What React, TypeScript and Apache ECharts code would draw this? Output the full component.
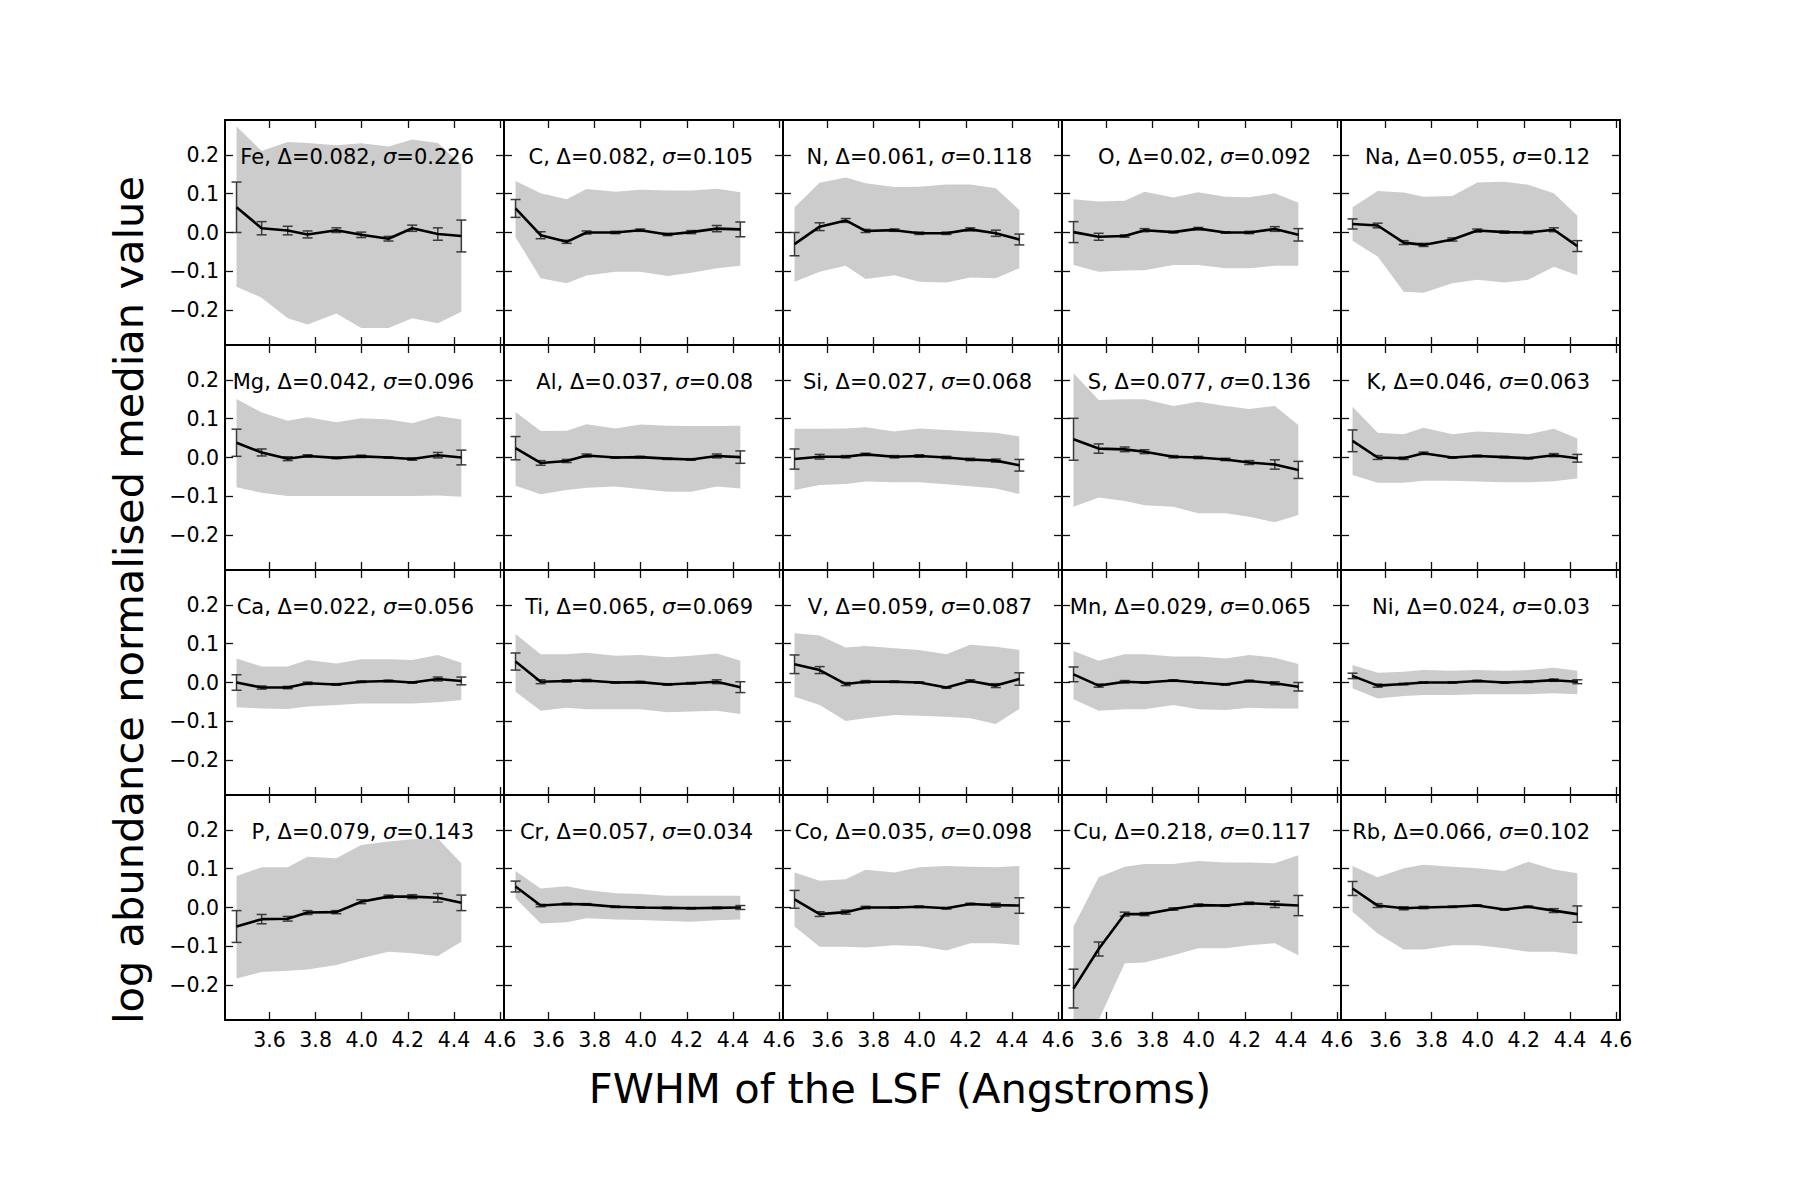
import { useEffect, useRef } from "react";
import * as echarts from "echarts";

// FWHM of the line spread function at which each median was evaluated (Angstroms)
const FWHM = [3.457, 3.566, 3.679, 3.765, 3.89, 3.998, 4.116, 4.219, 4.33, 4.432];

const ELEMENTS = ["Fe", "C", "N", "O", "Na", "Mg", "Al", "Si", "S", "K", "Ca", "Ti", "V", "Mn", "Ni", "P", "Cr", "Co", "Cu", "Rb"];
const DELTAS = ["0.082", "0.082", "0.061", "0.02", "0.055", "0.042", "0.037", "0.027", "0.077", "0.046", "0.022", "0.065", "0.059", "0.029", "0.024", "0.079", "0.057", "0.035", "0.218", "0.066"];
const SIGMAS = ["0.226", "0.105", "0.118", "0.092", "0.12", "0.096", "0.08", "0.068", "0.136", "0.063", "0.056", "0.069", "0.087", "0.065", "0.03", "0.143", "0.034", "0.098", "0.117", "0.102"];

// normalised median log abundance, one row per element (same order as ELEMENTS)
const MEDIAN = [
  [0.065, 0.011, 0.005, -0.005, 0.006, -0.006, -0.016, 0.011, -0.004, -0.009],
  [0.062, -0.007, -0.024, 0.0, 0.0, 0.006, -0.005, 0.001, 0.01, 0.008],
  [-0.03, 0.015, 0.031, 0.004, 0.006, -0.002, -0.002, 0.008, -0.002, -0.018],
  [0.001, -0.011, -0.009, 0.006, 0.001, 0.01, 0.0, 0.0, 0.009, -0.006],
  [0.022, 0.018, -0.026, -0.032, -0.018, 0.005, 0.001, 0.0, 0.007, -0.035],
  [0.038, 0.013, -0.003, 0.004, -0.001, 0.003, 0.0, -0.004, 0.006, 0.0],
  [0.024, -0.014, -0.009, 0.005, 0.0, 0.001, -0.003, -0.005, 0.004, 0.001],
  [-0.004, 0.002, 0.002, 0.008, 0.002, 0.004, 0.0, -0.005, -0.008, -0.02],
  [0.047, 0.023, 0.021, 0.015, 0.002, 0.0, -0.005, -0.013, -0.018, -0.032],
  [0.043, 0.0, -0.002, 0.011, 0.0, 0.004, 0.001, -0.002, 0.006, -0.002],
  [0.0, -0.013, -0.013, -0.002, -0.005, 0.002, 0.004, 0.0, 0.009, 0.004],
  [0.054, 0.002, 0.004, 0.005, 0.0, 0.001, -0.005, -0.002, 0.002, -0.012],
  [0.047, 0.032, -0.004, 0.002, 0.002, 0.0, -0.013, 0.004, -0.008, 0.009],
  [0.021, -0.008, 0.002, 0.0, 0.005, 0.0, -0.005, 0.004, -0.002, -0.011],
  [0.017, -0.008, -0.004, 0.0, 0.0, 0.004, 0.0, 0.002, 0.006, 0.002],
  [-0.049, -0.03, -0.029, -0.013, -0.012, 0.015, 0.028, 0.028, 0.025, 0.012],
  [0.054, 0.005, 0.009, 0.008, 0.002, 0.0, -0.001, -0.002, -0.001, 0.0],
  [0.021, -0.017, -0.012, 0.0, 0.0, 0.002, -0.002, 0.009, 0.006, 0.005],
  [-0.209, -0.107, -0.017, -0.017, -0.004, 0.006, 0.005, 0.011, 0.008, 0.005],
  [0.049, 0.005, -0.002, 0.0, 0.002, 0.005, -0.005, 0.002, -0.008, -0.017],
];

// half-length of the error bar on each median
const ERR = [
  [0.065, 0.017, 0.011, 0.009, 0.006, 0.007, 0.006, 0.008, 0.016, 0.041],
  [0.023, 0.009, 0.004, 0.004, 0.003, 0.003, 0.003, 0.004, 0.008, 0.019],
  [0.03, 0.01, 0.005, 0.004, 0.003, 0.003, 0.003, 0.004, 0.008, 0.014],
  [0.027, 0.009, 0.003, 0.004, 0.002, 0.003, 0.002, 0.003, 0.006, 0.016],
  [0.013, 0.006, 0.005, 0.004, 0.004, 0.004, 0.003, 0.003, 0.005, 0.014],
  [0.035, 0.009, 0.005, 0.003, 0.002, 0.003, 0.002, 0.003, 0.007, 0.019],
  [0.03, 0.006, 0.004, 0.004, 0.002, 0.002, 0.002, 0.002, 0.005, 0.016],
  [0.026, 0.006, 0.003, 0.003, 0.003, 0.003, 0.003, 0.003, 0.004, 0.015],
  [0.054, 0.012, 0.006, 0.005, 0.003, 0.003, 0.003, 0.005, 0.012, 0.022],
  [0.028, 0.005, 0.003, 0.003, 0.002, 0.002, 0.002, 0.002, 0.004, 0.01],
  [0.02, 0.004, 0.003, 0.003, 0.002, 0.002, 0.002, 0.002, 0.005, 0.01],
  [0.022, 0.005, 0.003, 0.003, 0.002, 0.002, 0.002, 0.002, 0.005, 0.014],
  [0.024, 0.009, 0.004, 0.003, 0.002, 0.002, 0.002, 0.003, 0.005, 0.016],
  [0.019, 0.004, 0.003, 0.002, 0.002, 0.002, 0.002, 0.002, 0.004, 0.011],
  [0.007, 0.004, 0.002, 0.002, 0.002, 0.002, 0.002, 0.002, 0.003, 0.005],
  [0.041, 0.012, 0.006, 0.005, 0.004, 0.005, 0.004, 0.005, 0.011, 0.02],
  [0.014, 0.003, 0.002, 0.002, 0.002, 0.002, 0.002, 0.002, 0.002, 0.005],
  [0.023, 0.006, 0.005, 0.003, 0.002, 0.002, 0.002, 0.002, 0.005, 0.02],
  [0.05, 0.018, 0.005, 0.004, 0.003, 0.003, 0.002, 0.003, 0.008, 0.026],
  [0.018, 0.005, 0.004, 0.003, 0.002, 0.002, 0.002, 0.002, 0.005, 0.021],
];

// upper edge of the scatter band
const BAND_HI = [
  [0.273, 0.21, 0.233, 0.231, 0.225, 0.23, 0.222, 0.24, 0.231, 0.175],
  [0.133, 0.101, 0.086, 0.112, 0.105, 0.11, 0.108, 0.108, 0.113, 0.104],
  [0.065, 0.128, 0.142, 0.127, 0.117, 0.118, 0.124, 0.124, 0.114, 0.058],
  [0.086, 0.08, 0.082, 0.105, 0.09, 0.104, 0.092, 0.091, 0.101, 0.077],
  [0.065, 0.107, 0.103, 0.092, 0.094, 0.129, 0.131, 0.123, 0.101, 0.043],
  [0.151, 0.116, 0.095, 0.104, 0.091, 0.101, 0.098, 0.088, 0.107, 0.098],
  [0.117, 0.068, 0.069, 0.086, 0.075, 0.085, 0.082, 0.081, 0.081, 0.082],
  [0.074, 0.074, 0.075, 0.078, 0.067, 0.075, 0.071, 0.067, 0.064, 0.054],
  [0.217, 0.148, 0.15, 0.15, 0.133, 0.144, 0.133, 0.125, 0.133, 0.084],
  [0.131, 0.064, 0.06, 0.077, 0.06, 0.067, 0.064, 0.06, 0.074, 0.049],
  [0.062, 0.041, 0.041, 0.058, 0.049, 0.06, 0.06, 0.058, 0.071, 0.051],
  [0.125, 0.073, 0.073, 0.077, 0.069, 0.071, 0.065, 0.069, 0.075, 0.056],
  [0.127, 0.121, 0.09, 0.094, 0.088, 0.084, 0.073, 0.097, 0.092, 0.084],
  [0.081, 0.056, 0.073, 0.073, 0.067, 0.067, 0.062, 0.071, 0.064, 0.048],
  [0.045, 0.025, 0.028, 0.032, 0.03, 0.032, 0.03, 0.032, 0.038, 0.03],
  [0.081, 0.104, 0.104, 0.131, 0.127, 0.161, 0.17, 0.176, 0.178, 0.114],
  [0.094, 0.049, 0.055, 0.045, 0.037, 0.035, 0.03, 0.03, 0.03, 0.03],
  [0.09, 0.069, 0.073, 0.097, 0.09, 0.104, 0.107, 0.105, 0.104, 0.107],
  [-0.049, 0.078, 0.105, 0.112, 0.112, 0.12, 0.116, 0.116, 0.114, 0.135],
  [0.107, 0.078, 0.101, 0.11, 0.105, 0.101, 0.094, 0.118, 0.098, 0.088],
];

// lower edge of the scatter band
const BAND_LO = [
  [-0.14, -0.168, -0.221, -0.237, -0.209, -0.246, -0.246, -0.221, -0.234, -0.204],
  [-0.012, -0.118, -0.131, -0.111, -0.101, -0.101, -0.112, -0.104, -0.092, -0.086],
  [-0.127, -0.101, -0.086, -0.12, -0.11, -0.127, -0.129, -0.116, -0.118, -0.092],
  [-0.084, -0.101, -0.098, -0.097, -0.084, -0.084, -0.092, -0.092, -0.086, -0.086],
  [-0.021, -0.062, -0.153, -0.155, -0.131, -0.122, -0.129, -0.122, -0.088, -0.11],
  [-0.077, -0.091, -0.099, -0.099, -0.099, -0.099, -0.099, -0.099, -0.098, -0.101],
  [-0.073, -0.095, -0.084, -0.078, -0.075, -0.081, -0.088, -0.088, -0.075, -0.08],
  [-0.084, -0.071, -0.068, -0.062, -0.064, -0.064, -0.069, -0.074, -0.08, -0.094],
  [-0.127, -0.103, -0.112, -0.123, -0.127, -0.144, -0.144, -0.153, -0.167, -0.148],
  [-0.045, -0.065, -0.065, -0.06, -0.06, -0.062, -0.064, -0.064, -0.061, -0.054],
  [-0.064, -0.067, -0.068, -0.062, -0.058, -0.054, -0.054, -0.054, -0.051, -0.045],
  [-0.024, -0.073, -0.065, -0.069, -0.069, -0.069, -0.077, -0.075, -0.073, -0.081],
  [-0.037, -0.058, -0.099, -0.092, -0.084, -0.086, -0.088, -0.092, -0.107, -0.068],
  [-0.043, -0.073, -0.069, -0.069, -0.058, -0.069, -0.071, -0.065, -0.067, -0.067],
  [-0.015, -0.041, -0.035, -0.032, -0.032, -0.03, -0.03, -0.03, -0.028, -0.03],
  [-0.183, -0.166, -0.163, -0.16, -0.148, -0.131, -0.114, -0.118, -0.125, -0.088],
  [0.024, -0.041, -0.038, -0.028, -0.031, -0.032, -0.035, -0.037, -0.033, -0.031],
  [-0.049, -0.101, -0.101, -0.103, -0.097, -0.099, -0.111, -0.092, -0.092, -0.097],
  [-0.42, -0.29, -0.144, -0.142, -0.123, -0.105, -0.105, -0.097, -0.092, -0.123],
  [-0.011, -0.067, -0.108, -0.108, -0.097, -0.097, -0.105, -0.114, -0.114, -0.121],
];

const X_TICKS = [3.6, 3.8, 4.0, 4.2, 4.4, 4.6];
const Y_TICKS = [-0.2, -0.1, 0.0, 0.1, 0.2];
const X_TITLE = "FWHM of the LSF (Angstroms)";
const Y_TITLE = "log abundance normalised median value";

// panel layout (pixels)
const W = 1800;
const H = 1200;
const LEFT = 225;
const TOP = 120;
const PW = 279;
const PH = 225;
const COLS = 5;
const ROWS = 4;
const X_MIN = 3.407;
const X_MAX = 4.617;
const Y_MIN = -0.29;
const Y_MAX = 0.29;
const FONT = "DejaVu Sans";
const CAP = 5;

const fmtX = (v: number) => v.toFixed(1);
const fmtY = (v: number) => (v < -1e-9 ? "\u2212" : "") + Math.abs(v).toFixed(1);

function buildOption() {
  const grid: any[] = [];
  const xAxis: any[] = [];
  const yAxis: any[] = [];
  const series: any[] = [];
  const title: any[] = [];

  const spine = { show: true, onZero: false, lineStyle: { color: "#000", width: 2 } };
  const tickStyle = { color: "#111", width: 1.3 };

  ELEMENTS.forEach((el, i) => {
    const r = Math.floor(i / COLS);
    const c = i % COLS;
    const left = LEFT + c * PW;
    const top = TOP + r * PH;
    grid.push({ left, top, width: PW, height: PH, containLabel: false });

    const xTick = { show: true, inside: true, length: 8, customValues: X_TICKS, lineStyle: tickStyle };
    const yTick = { show: true, inside: true, length: 8, customValues: Y_TICKS, lineStyle: tickStyle };
    const baseX = { gridIndex: i, type: "value", min: X_MIN, max: X_MAX, axisLine: spine, axisTick: xTick, splitLine: { show: false }, z: 5 };
    const baseY = { gridIndex: i, type: "value", min: Y_MIN, max: Y_MAX, axisLine: spine, axisTick: yTick, splitLine: { show: false }, z: 5 };

    xAxis.push({
      ...baseX,
      position: "bottom",
      axisLabel: { show: r === ROWS - 1, customValues: X_TICKS, formatter: fmtX, fontFamily: FONT, fontSize: 20.5, color: "#000", margin: 9 },
    });
    xAxis.push({ ...baseX, position: "top", axisLabel: { show: false } });
    yAxis.push({
      ...baseY,
      position: "left",
      axisLabel: { show: c === 0, customValues: Y_TICKS, formatter: fmtY, fontFamily: FONT, fontSize: 20.5, color: "#000", margin: 6 },
    });
    yAxis.push({ ...baseY, position: "right", axisLabel: { show: false } });

    const xi = 2 * i;
    const yi = 2 * i;

    // scatter band: one polygon through the upper edges and back along the lower edges
    series.push({
      type: "custom",
      xAxisIndex: xi,
      yAxisIndex: yi,
      silent: true,
      clip: true,
      encode: { x: 0, y: [1, 2] },
      data: FWHM.map((x, k) => [x, BAND_LO[i][k], BAND_HI[i][k]]),
      renderItem: (params: any, api: any) => {
        if (params.dataIndexInside !== 0) return null;
        const n = params.dataInsideLength;
        const upper: number[][] = [];
        const lower: number[][] = [];
        for (let k = 0; k < n; k++) {
          const x = api.value(0, k);
          upper.push(api.coord([x, api.value(2, k)]));
          lower.push(api.coord([x, api.value(1, k)]));
        }
        return {
          type: "polygon",
          shape: { points: upper.concat(lower.reverse()) },
          style: { fill: "#cccccc", stroke: "none" },
        };
      },
      z: 1,
    });

    // error bars on the medians
    series.push({
      type: "custom",
      xAxisIndex: xi,
      yAxisIndex: yi,
      silent: true,
      encode: { x: 0, y: 1 },
      data: FWHM.map((x, k) => [x, MEDIAN[i][k], ERR[i][k]]),
      renderItem: (_params: any, api: any) => {
        const x = api.value(0);
        const y = api.value(1);
        const e = api.value(2);
        const hi = api.coord([x, y + e]);
        const lo = api.coord([x, y - e]);
        const style = { stroke: "#3a3a3a", lineWidth: 1.5 };
        return {
          type: "group",
          children: [
            { type: "line", shape: { x1: hi[0], y1: hi[1], x2: lo[0], y2: lo[1] }, style },
            { type: "line", shape: { x1: hi[0] - CAP, y1: hi[1], x2: hi[0] + CAP, y2: hi[1] }, style },
            { type: "line", shape: { x1: lo[0] - CAP, y1: lo[1], x2: lo[0] + CAP, y2: lo[1] }, style },
          ],
        };
      },
      z: 2,
    });

    // median line
    series.push({
      type: "line",
      xAxisIndex: xi,
      yAxisIndex: yi,
      symbol: "none",
      silent: true,
      lineStyle: { color: "#000", width: 2.6 },
      data: FWHM.map((x, k) => [x, MEDIAN[i][k]]),
      z: 3,
    });

    const textStyle = { fontFamily: FONT, fontSize: 21, fontWeight: "normal", color: "#000", lineHeight: 24 };
    title.push({
      text: `{n|${el}, \u0394=${DELTAS[i]}, }{i|\u03c3}{n|=${SIGMAS[i]}}`,
      right: W - (left + PW - 30),
      top: top + 25,
      padding: 0,
      textStyle: {
        fontWeight: "normal",
        rich: {
          n: textStyle,
          i: { ...textStyle, fontStyle: "italic" },
        },
      },
    });
  });

  return {
    animation: false,
    backgroundColor: "#ffffff",
    textStyle: { fontFamily: FONT },
    title,
    grid,
    xAxis,
    yAxis,
    series,
    graphic: [
      {
        type: "text",
        x: 900,
        y: 1088,
        silent: true,
        style: {
          text: X_TITLE,
          font: `41.6px "${FONT}"`,
          fill: "#000",
          textAlign: "center",
          align: "center",
          textVerticalAlign: "middle",
          verticalAlign: "middle",
        },
      },
      {
        type: "text",
        x: 128,
        y: 600,
        rotation: Math.PI / 2,
        silent: true,
        style: {
          text: Y_TITLE,
          font: `41.6px "${FONT}"`,
          fill: "#000",
          textAlign: "center",
          align: "center",
          textVerticalAlign: "middle",
          verticalAlign: "middle",
        },
      },
    ],
  };
}

export default function App() {
  const ref = useRef<HTMLDivElement>(null);
  useEffect(() => {
    if (!ref.current) return;
    const chart = echarts.init(ref.current, undefined, { renderer: "svg" });
    chart.setOption(buildOption() as any);
    return () => chart.dispose();
  }, []);
  return (
    <div
      ref={ref}
      style={{ position: "absolute", left: 0, top: 0, width: W, height: H, background: "#fff" }}
    />
  );
}
